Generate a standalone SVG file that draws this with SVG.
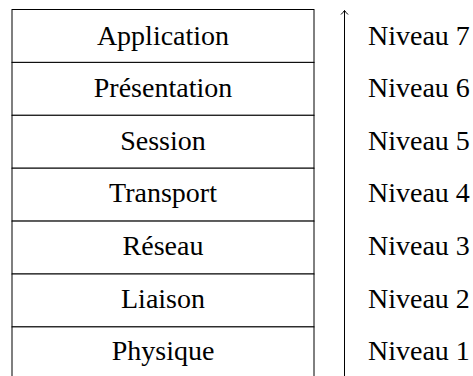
<svg xmlns="http://www.w3.org/2000/svg" width="473" height="376" viewBox="0 0 473 376">
<style>
.box{fill:#fff;stroke:#000;stroke-width:1}
.t{font-family:"Liberation Serif","DejaVu Serif",serif;font-size:28px;fill:#000}
.c{text-anchor:middle}
</style>
<defs>
<marker id="ah" markerWidth="10" markerHeight="10" refX="5" refY="5" orient="auto" markerUnits="userSpaceOnUse">
<path d="M1,1.5 Q3.5,4 5,5 Q3.5,6 1,8.5" fill="none" stroke="#000" stroke-width="1"/>
</marker>
</defs>
<rect x="0" y="0" width="473" height="376" fill="#fff"/>
<g id="application"><rect class="box" x="12" y="9.5" width="302" height="52.9"/><text class="t c" x="163" y="44.5">Application</text></g>
<g id="presentation"><rect class="box" x="12" y="62.4" width="302" height="52.9"/><text class="t c" x="163" y="97">Présentation</text></g>
<g id="session"><rect class="box" x="12" y="115.3" width="302" height="52.9"/><text class="t c" x="163" y="149.5">Session</text></g>
<g id="transport"><rect class="box" x="12" y="168.2" width="302" height="52.9"/><text class="t c" x="163" y="202">Transport</text></g>
<g id="reseau"><rect class="box" x="12" y="221.1" width="302" height="52.9"/><text class="t c" x="163" y="254.5">Réseau</text></g>
<g id="liaison"><rect class="box" x="12" y="274" width="302" height="52.9"/><text class="t c" x="163" y="307.5">Liaison</text></g>
<g id="physique"><rect class="box" x="12" y="326.9" width="302" height="52.9"/><text class="t c" x="163" y="360">Physique</text></g>
<g id="connectors"><line x1="344.5" y1="380" x2="344.5" y2="10.5" stroke="#000" stroke-width="1" marker-end="url(#ah)"/></g>
<g id="levels">
<text class="t" x="368" y="44.5">Niveau 7</text>
<text class="t" x="368" y="97">Niveau 6</text>
<text class="t" x="368" y="149.5">Niveau 5</text>
<text class="t" x="368" y="202">Niveau 4</text>
<text class="t" x="368" y="254.5">Niveau 3</text>
<text class="t" x="368" y="307.5">Niveau 2</text>
<text class="t" x="368" y="360">Niveau 1</text>
</g>
</svg>
